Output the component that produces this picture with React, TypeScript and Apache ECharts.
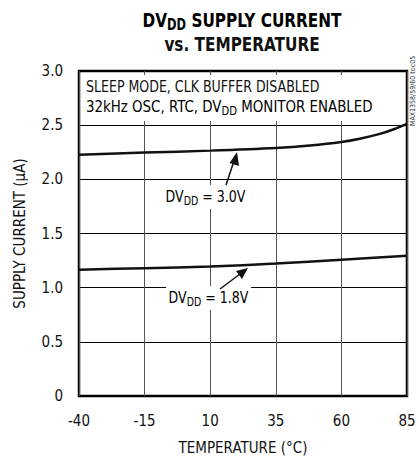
import React, { useEffect, useRef } from "react";
import * as echarts from "echarts";

const temps30 = [-40, -15, 10, 35, 48, 60, 67, 75, 80, 85];
const current30 = [2.228, 2.247, 2.265, 2.29, 2.313, 2.345, 2.375, 2.422, 2.462, 2.512];
const temps18 = [-40, -15, 10, 35, 60, 85];
const current18 = [1.165, 1.18, 1.195, 1.222, 1.258, 1.295];
const xTicks = [-40, -15, 10, 35, 60, 85];
const yTicks = [0, 0.5, 1.0, 1.5, 2.0, 2.5, 3.0];

const FONT = "'DejaVu Sans Condensed', 'Roboto', sans-serif";

export default function App() {
  const ref = useRef<HTMLDivElement>(null);
  useEffect(() => {
    document.body.style.margin = "0";
    const chart = echarts.init(ref.current!, null, { renderer: "svg" });
    const sub = { fontSize: 12, padding: [8, 0, 0, 0], fontFamily: FONT, color: "#111" };
    const norm = { fontSize: 16, fontFamily: FONT, color: "#111" };
    const option: any = {
      animation: false,
      backgroundColor: "#fff",
      textStyle: { fontFamily: FONT },
      grid: { left: 79, right: 12, top: 71, bottom: 63, show: true, borderColor: "#000", borderWidth: 2.5 },
      xAxis: {
        type: "value",
        min: xTicks[0],
        max: xTicks[xTicks.length - 1],
        interval: 25,
        name: "TEMPERATURE (°C)",
        nameLocation: "middle",
        nameGap: 44,
        nameTextStyle: { fontSize: 15, color: "#111", fontFamily: FONT },
        axisLine: { show: false },
        axisTick: { show: false },
        axisLabel: { fontSize: 15, color: "#111", margin: 17, fontFamily: FONT },
        splitLine: { show: true, lineStyle: { color: "#555", width: 1 } },
      },
      yAxis: {
        type: "value",
        min: yTicks[0],
        max: yTicks[yTicks.length - 1],
        interval: 0.5,
        name: "SUPPLY CURRENT (µA)",
        nameLocation: "middle",
        nameGap: 52,
        nameTextStyle: { fontSize: 15, color: "#111", fontFamily: FONT },
        axisLine: { show: false },
        axisTick: { show: false },
        axisLabel: {
          fontSize: 15,
          color: "#111",
          margin: 16,
          fontFamily: FONT,
          formatter: (v: number) => (v === 0 ? "0" : v.toFixed(1)),
        },
        splitLine: { show: true, lineStyle: { color: "#000", width: 1 } },
      },
      series: [
        {
          type: "line",
          data: temps30.map((t, i) => [t, current30[i]]),
          smooth: 0.3,
          symbol: "none",
          lineStyle: { color: "#111", width: 2.5 },
          z: 3,
        },
        {
          type: "line",
          data: temps18.map((t, i) => [t, current18[i]]),
          smooth: 0.3,
          symbol: "none",
          lineStyle: { color: "#111", width: 2.5 },
          z: 3,
        },
      ],
      graphic: [
        {
          type: "text",
          x: 242,
          y: 8,
          scaleX: 0.85,
          style: {
            text: "{b|DV}{bs|DD}{b| SUPPLY CURRENT}",
            align: "center",
            rich: {
              b: { fontSize: 20, fontWeight: "bold", fontFamily: FONT, color: "#111" },
              bs: { fontSize: 15, fontWeight: "bold", fontFamily: FONT, color: "#111", padding: [9, 0, 0, 0] },
            },
          },
        },
        {
          type: "text",
          x: 242,
          y: 34,
          scaleX: 0.85,
          style: {
            text: "vs. TEMPERATURE",
            align: "center",
            fontSize: 20,
            fontWeight: "bold",
            fontFamily: FONT,
            fill: "#111",
          },
        },
        {
          type: "rect",
          shape: { x: 81, y: 75, width: 324, height: 46 },
          style: { fill: "#fff" },
          z: 10,
        },
        {
          type: "text",
          x: 86,
          y: 79,
          z: 11,
          scaleX: 0.875,
          style: { text: "SLEEP MODE, CLK BUFFER DISABLED", ...norm, fill: "#111" },
        },
        {
          type: "text",
          x: 86,
          y: 97,
          z: 11,
          scaleX: 0.93,
          style: {
            text: "{n|32kHz OSC, RTC, DV}{s|DD}{n| MONITOR ENABLED}",
            rich: { n: norm, s: sub },
          },
        },
        {
          type: "text",
          x: 163,
          y: 185,
          z: 11,
          scaleX: 0.875,
          style: {
            text: "{n|DV}{s|DD}{n| = 3.0V}",
            backgroundColor: "#fff",
            padding: [2, 3, 2, 3],
            rich: { n: norm, s: sub },
          },
        },
        {
          type: "text",
          x: 166,
          y: 286,
          z: 11,
          scaleX: 0.875,
          style: {
            text: "{n|DV}{s|DD}{n| = 1.8V}",
            backgroundColor: "#fff",
            padding: [2, 3, 2, 3],
            rich: { n: norm, s: sub },
          },
        },
        { type: "line", z: 12, shape: { x1: 226, y1: 185, x2: 234, y2: 161 }, style: { stroke: "#111", lineWidth: 1.5 } },
        { type: "polygon", z: 12, shape: { points: [[237, 152], [229.5, 163], [239, 166]] }, style: { fill: "#111" } },
        { type: "line", z: 12, shape: { x1: 220, y1: 289, x2: 240, y2: 274 }, style: { stroke: "#111", lineWidth: 1.5 } },
        { type: "polygon", z: 12, shape: { points: [[248, 268], [236, 271], [242, 279]] }, style: { fill: "#111" } },
        {
          type: "text",
          x: 409,
          y: 126,
          rotation: Math.PI / 2,
          z: 11,
          style: { text: "MAX1358/59/60 toc05", fontSize: 7, fontFamily: FONT, fill: "#333" },
        },
      ],
    };
    chart.setOption(option);
    return () => chart.dispose();
  }, []);
  return <div ref={ref} style={{ width: 419, height: 460 }} />;
}
